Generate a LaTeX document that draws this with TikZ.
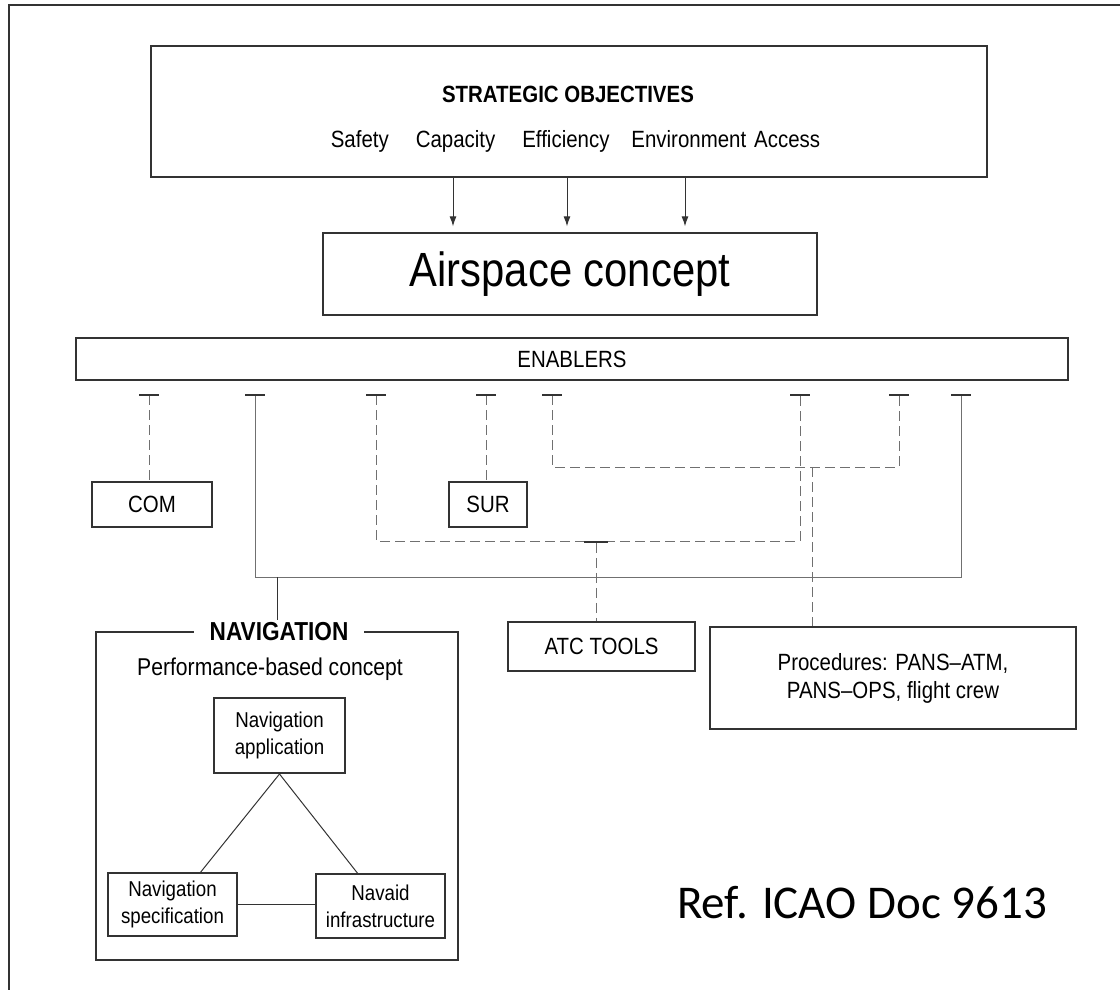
\documentclass[tikz,border=0pt]{standalone}
\usepackage{fontspec}
\newfontfamily\narrowfont{Liberation Sans}[FakeStretch=0.87]
\newfontfamily\reffont{Carlito}
\usepackage{tikz}
\usetikzlibrary{positioning, arrows.meta}
\definecolor{boxline}{HTML}{333333}
\definecolor{linkgray}{HTML}{707070}
\tikzset{
  box/.style={rectangle, draw=boxline, line width=1.4pt, inner sep=0pt, align=center},
  conn/.style={draw=linkgray, line width=1pt},
  dashconn/.style={conn, dash pattern=on 10pt off 5pt},
  teeone/.style={{Bar[width=20pt, line width=1.8pt, color=boxline]}-},
  teeboth/.style={{Bar[width=20pt, line width=1.8pt, color=boxline]}-{Bar[width=20pt, line width=1.8pt, color=boxline]}},
  objarrow/.style={draw=boxline, line width=0.9pt, -{Latex[length=10pt, width=7pt]}, shorten >=6pt},
}

\begin{document}
\begin{tikzpicture}[x=1pt, y=-1pt, font=\narrowfont\fontsize{23.5}{28}\selectfont]
  \tikzset{
    smallbox/.style={box, font=\narrowfont\fontsize{21.5}{27}\selectfont},
    navline/.style={draw=boxline, line width=1pt},
  }
  \useasboundingbox (0,0) rectangle (1120,990);
  \draw[draw=boxline, line width=1.6pt] (9,990) -- (9,5) -- (1120,5);

  % objectives and airspace concept
  \node[box, minimum width=836pt, minimum height=131pt] (strat) at (569,111.5) {};
  \node[font=\narrowfont\bfseries\fontsize{23.5}{28}\selectfont] (stitle) at (568,94) {STRATEGIC OBJECTIVES};
  \node (objs) at (575.5,141) {Safety\hspace{27pt}Capacity\hspace{27pt}Efficiency\hspace{22pt}Environment\hspace{8pt}Access};
  \node[box, minimum width=494pt, minimum height=82pt, font=\narrowfont\fontsize{48}{56}\selectfont] (air) at (570,274) {Airspace concept};

  \coordinate (o1) at (453,177);
  \coordinate (o2) at (567,177);
  \coordinate (o3) at (685,177);
  \draw[objarrow] (o1) -- (o1 |- air.north);
  \draw[objarrow] (o2) -- (o2 |- air.north);
  \draw[objarrow] (o3) -- (o3 |- air.north);

  % enablers
  \node[box, minimum width=992pt, minimum height=42pt] (enab) at (572,359) {ENABLERS};

  \node[box, minimum width=120pt, minimum height=45pt] (com) at (152,504.5) {COM};
  \node[box, minimum width=78pt, minimum height=45pt] (sur) at (488,504.5) {SUR};
  \node[box, minimum width=187pt, minimum height=49pt] (atc) at (601.5,646.5) {ATC TOOLS};
  \node[box, minimum width=366pt, minimum height=102pt] (proc) at (893,678) {Procedures: PANS–ATM,\\PANS–OPS, flight crew};

  \coordinate (tcom) at (149,394);
  \coordinate (tnav1) at (255,394);
  \coordinate (tatc1) at (376,394);
  \coordinate (tsur) at (486,394);
  \coordinate (tpro1) at (552,394);
  \coordinate (tatc2) at (800,394);
  \coordinate (tpro2) at (899,394);
  \coordinate (tnav2) at (961,394);
  \coordinate (jnav) at (277,577);
  \coordinate (jatc) at (596,541);
  \coordinate (jpro) at (812,467);

  \draw[dashconn, teeone] (tcom) -- (tcom |- com.north);
  \draw[dashconn, teeone] (tsur) -- (tsur |- sur.north);
  \draw[dashconn, teeboth] (tpro1) |- (jpro -| tpro2) -- (tpro2);
  \draw[dashconn, teeboth] (tatc1) |- (jatc -| tatc2) -- (tatc2);
  \draw[conn, teeboth] (tnav1) |- (jnav -| tnav2) -- (tnav2);
  \draw[dashconn, {Bar[width=24pt, line width=2.4pt, color=boxline]}-] (jatc) -- (jatc |- atc.north);
  \draw[dashconn] (jpro) -- (jpro |- proc.north);

  % navigation
  \node[box, minimum width=362pt, minimum height=328pt] (navframe) at (277,796) {};
  \node[fill=white, inner xsep=16pt, inner ysep=3pt, font=\narrowfont\bfseries\fontsize{26}{30}\selectfont] (navtitle) at (279,632) {NAVIGATION};
  \draw[conn, draw=boxline] (jnav) -- (jnav |- navtitle.north);
  \node[font=\narrowfont\fontsize{24.3}{29}\selectfont] (perf) at (270,669) {Performance-based concept};

  \node[smallbox, line width=2pt, minimum width=131pt, minimum height=75pt] (napp) at (279.5,735.5) {Navigation\\application};
  \node[smallbox, minimum width=129pt, minimum height=63pt] (nspec) at (172.5,904.5) {Navigation\\specification};
  \node[smallbox, minimum width=129pt, minimum height=64pt] (naid) at (380.5,906) {Navaid\\infrastructure};

  \draw[navline] (napp.south) -- (nspec.49);
  \draw[navline] (napp.south) -- (naid.125);
  \draw[navline] (nspec.east) -- (nspec.east -| naid.west);

  \node[font=\reffont\fontsize{47}{56}\selectfont] (ref) at (862,903) {Ref. ICAO Doc 9613};
\end{tikzpicture}
\end{document}
